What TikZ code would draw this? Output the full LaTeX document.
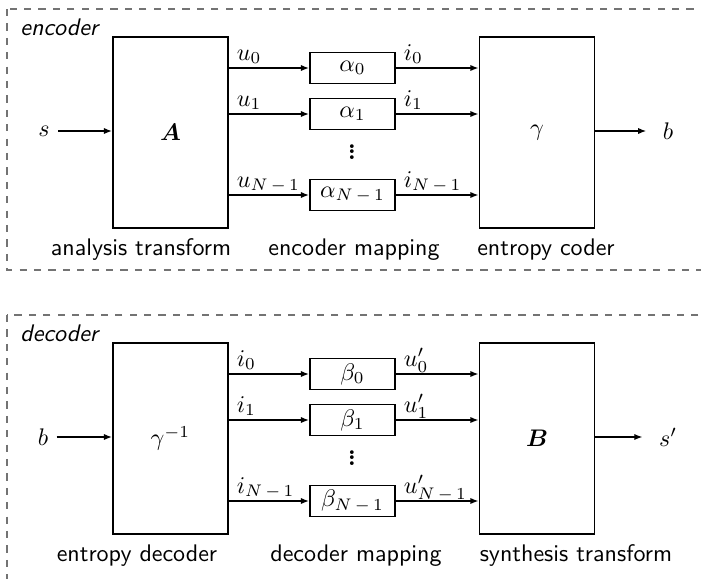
\documentclass[tikz,border=0pt]{standalone}
\usepackage{bm}
\usetikzlibrary{arrows.meta}
\newcommand\mysub{N\mkern3mu{-}\mkern3mu1}
\newcommand\myvdots{\vbox{\baselineskip=2.2pt\lineskiplimit=-9pt\lineskip=0pt\hbox{.}\hbox{.}\hbox{.}}}
\begin{document}
\begin{tikzpicture}[x=0.4167pt,y=-0.4167pt,
 blk/.style={draw, line width=0.8pt, minimum width=47.9pt, minimum height=79.6pt, inner sep=0pt},
 map/.style={draw, line width=0.8pt, minimum width=35.4pt, minimum height=12.9pt, inner sep=0pt},
 arr/.style={-{Latex[length=3.4pt,width=2.6pt]}, line width=0.55pt},
 frame/.style={draw=black!55, dashed, line width=0.45pt},
 captxt/.style={font=\sffamily, anchor=base, inner sep=0pt},
 ttl/.style={font=\sffamily\itshape, anchor=base west, inner sep=0pt},
 lab/.style={anchor=base west, inner sep=0pt, xshift=3pt, yshift=3.3pt},
 dts/.style={inner sep=0pt, font=\bfseries},
 io/.style={inner xsep=6.7pt}]
\useasboundingbox (0,0) rectangle (701,579);
\clip (0,0) rectangle (701,579);
% frames
\draw[frame] (7,9) rectangle (730,270);
\draw[frame] (7,315) rectangle (730,600);
% ---------- encoder ----------
\node[ttl] (t1) at (20,35) {encoder};
\node[blk] (A) at (170.5,132.5) {$\bm{A}$};
\node[blk] (g) at (537,132.5) {$\gamma$};
\node[map] (a0) at (352.5,68) {$\alpha_0$};
\node[map] (a1) at (352.5,114) {$\alpha_1$};
\node[map] (a2) at (352.5,195) {$\alpha_{\mysub}$};
\node[dts] (d1) at (352,152) {\myvdots};
\node (s) at (44,131) {$s$};
\node[io] (b) at (668,131) {$b$};
\draw[arr] (s) -- (s -| A.west);
\draw[arr] (g.east |- b) -- (b);
\draw[arr] (A.east |- a0) -- node[lab,pos=0]{$u_0$} (a0);
\draw[arr] (A.east |- a1) -- node[lab,pos=0]{$u_1$} (a1);
\draw[arr] (A.east |- a2) -- node[lab,pos=0]{$u_{\mysub}$} (a2);
\draw[arr] (a0) -- node[lab,pos=0]{$i_0$} (a0 -| g.west);
\draw[arr] (a1) -- node[lab,pos=0]{$i_1$} (a1 -| g.west);
\draw[arr] (a2) -- node[lab,pos=0]{$i_{\mysub}$} (a2 -| g.west);
\node[captxt] (c1) at (141,255) {analysis transform};
\node[captxt] (c2) at (354,255) {encoder mapping};
\node[captxt] (c3) at (546,255) {entropy coder};
% ---------- decoder ----------
\node[ttl] (t2) at (20,341) {decoder};
\node[blk] (G) at (170.5,438.5) {$\gamma^{-1}$};
\node[blk] (B) at (537,438.5) {$\bm{B}$};
\node[map] (b0) at (352.5,374) {$\beta_0$};
\node[map] (b1) at (352.5,420) {$\beta_1$};
\node[map] (b2) at (352.5,501) {$\beta_{\mysub}$};
\node[dts] (d2) at (352,458) {\myvdots};
\node (bin) at (43,437) {$b$};
\node[io] (sout) at (668,437) {$s'$};
\draw[arr] (bin) -- (bin -| G.west);
\draw[arr] (B.east |- sout) -- (sout);
\draw[arr] (G.east |- b0) -- node[lab,pos=0]{$i_0$} (b0);
\draw[arr] (G.east |- b1) -- node[lab,pos=0]{$i_1$} (b1);
\draw[arr] (G.east |- b2) -- node[lab,pos=0]{$i_{\mysub}$} (b2);
\draw[arr] (b0) -- node[lab,pos=0]{$u'_0$} (b0 -| B.west);
\draw[arr] (b1) -- node[lab,pos=0]{$u'_1$} (b1 -| B.west);
\draw[arr] (b2) -- node[lab,pos=0]{$u'_{\mysub}$} (b2 -| B.west);
\node[captxt] (c4) at (137,561) {entropy decoder};
\node[captxt] (c5) at (356,561) {decoder mapping};
\node[captxt] (c6) at (576,561) {synthesis transform};
\end{tikzpicture}
\end{document}
